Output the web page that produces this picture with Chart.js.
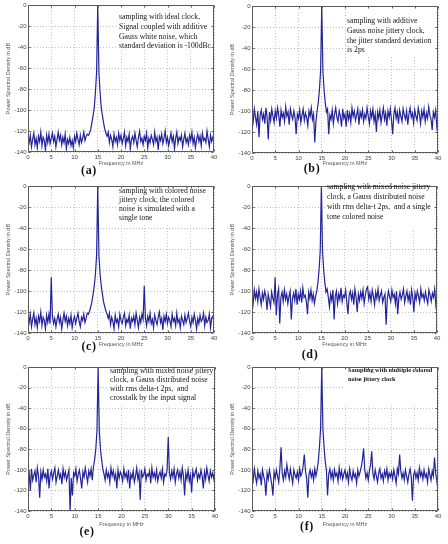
<!DOCTYPE html>
<html><head><meta charset="utf-8">
<script src="https://cdn.jsdelivr.net/npm/chart.js@4.4.1/dist/chart.umd.min.js"></script>
<style>
html,body{margin:0;padding:0;background:#fff;width:448px;height:544px;overflow:hidden}
#wrap{position:relative;width:448px;height:544px}
canvas{position:absolute}
.note{position:absolute;font-family:"Liberation Serif","Times New Roman",serif;color:#151515;white-space:pre;font-size:7.7px}
.lab{position:absolute;font-family:"Liberation Serif","Times New Roman",serif;font-weight:bold;font-size:12px;line-height:12px;color:#111;transform:translate(-50%,-50%);letter-spacing:0.6px}
</style></head>
<body><div id="wrap"></div>
<script>
// ---- data ----
const FREQ_STEP = 0.25;            // MHz between PSD bins
const FREQ_COUNT = 161;            // 0 .. 40 MHz
const freqs = Array.from({length: FREQ_COUNT}, (_, i) => i * FREQ_STEP);
const xTickValues = [0, 5, 10, 15, 20, 25, 30, 35, 40];
const yTickValues = [-140, -120, -100, -80, -60, -40, -20, 0];

const psdA = [
 -126,-131,-124,-135,-128,-122,-133,-127,-136,-125,-130,-121,-134,-126,-129,-138,-124,-131,-123,-132,
 -127,-122,-130,-125,-135,-128,-121,-129,-124,-133,-126,-131,-123,-137,-128,-132,-126,-134,-129,-136,
 -125,-130,-122,-128,-133,-124,-131,-127,-121,-129,-125,-123,-124,-122,-118,-112,-105,-98,-83,-64,
 0,-64,-83,-98,-105,-112,-118,-122,-125,-121,-131,-124,-128,-135,-123,-130,-126,-133,-122,-129,
 -124,-132,-127,-121,-134,-126,-130,-123,-137,-128,-125,-131,-122,-129,-135,-126,-120,-130,-127,-133,
 -125,-129,-122,-136,-127,-131,-124,-128,-133,-121,-130,-126,-138,-125,-129,-123,-132,-127,-120,-131,
 -126,-134,-128,-122,-130,-125,-137,-127,-121,-132,-126,-129,-124,-135,-128,-122,-131,-127,-133,-124,
 -129,-121,-132,-126,-136,-128,-123,-130,-125,-134,-122,-129,-127,-131,-120,-128,-135,-124,-130,-126,
 -129];
const psdB = [
 -102,-110,-98,-106,-113,-100,-125,-104,-99,-108,-103,-112,-97,-106,-127,-101,-109,-98,-105,-111,
 -100,-107,-97,-104,-115,-99,-106,-102,-110,-96,-105,-101,-113,-98,-104,-108,-100,-106,-122,-103,
 -107,-99,-111,-104,-98,-109,-102,-106,-114,-100,-105,-97,-108,-103,-130,-110,-100,-92,-80,-62,
 0,-62,-80,-92,-101,-98,-122,-104,-108,-99,-112,-103,-97,-106,-110,-100,-105,-115,-98,-107,
 -103,-115,-99,-108,-102,-111,-97,-105,-100,-109,-104,-98,-113,-101,-106,-99,-110,-103,-107,-97,
 -105,-112,-100,-106,-98,-110,-103,-120,-101,-107,-99,-111,-104,-97,-108,-102,-114,-100,-106,-98,
 -109,-122,-103,-97,-107,-101,-112,-99,-105,-110,-98,-104,-108,-100,-113,-103,-97,-106,-102,-111,
 -99,-105,-109,-97,-103,-112,-100,-106,-98,-110,-102,-107,-96,-104,-108,-118,-101,-106,-99,-115,
 -108];
const psdC = [
 -124,-130,-122,-134,-127,-121,-132,-126,-135,-124,-129,-120,-133,-125,-128,-136,-123,-130,-122,-131,
 -87,-124,-131,-126,-134,-127,-122,-130,-125,-136,-128,-121,-129,-124,-133,-126,-131,-123,-135,-128,
 -124,-131,-126,-121,-129,-134,-125,-128,-122,-130,-126,-121,-122,-119,-115,-110,-103,-95,-84,-66,
 0,-66,-84,-95,-103,-110,-115,-119,-122,-126,-121,-132,-125,-129,-136,-123,-130,-127,-134,-122,
 -128,-131,-125,-121,-133,-127,-130,-123,-136,-126,-129,-124,-132,-121,-128,-135,-125,-130,-122,-127,
 -95,-126,-133,-124,-129,-121,-131,-127,-135,-123,-128,-132,-125,-120,-130,-126,-137,-124,-129,-122,
 -131,-125,-128,-134,-122,-129,-126,-133,-121,-130,-127,-135,-124,-128,-132,-123,-130,-126,-121,-129,
 -134,-125,-130,-122,-128,-136,-126,-131,-123,-129,-127,-121,-133,-125,-130,-128,-122,-135,-126,-124,
 -130];
const psdD = [
 -104,-112,-99,-107,-101,-110,-98,-106,-113,-102,-108,-100,-105,-118,-103,-109,-115,-101,-107,-111,
 -87,-123,-104,-98,-131,-106,-101,-110,-99,-108,-103,-112,-105,-100,-127,-107,-102,-109,-98,-113,
 -103,-108,-100,-111,-97,-106,-104,-110,-122,-101,-107,-99,-109,-103,-112,-105,-100,-92,-80,-62,
 0,-62,-80,-92,-101,-98,-106,-115,-103,-109,-99,-127,-105,-100,-112,-103,-108,-97,-110,-104,
 -106,-99,-111,-122,-104,-100,-108,-102,-113,-98,-106,-120,-103,-109,-101,-107,-99,-112,-104,-98,
 -96,-108,-102,-110,-99,-105,-113,-101,-107,-98,-109,-104,-100,-111,-106,-103,-132,-108,-100,-105,
 -110,-99,-106,-103,-112,-100,-122,-107,-101,-108,-104,-98,-111,-105,-100,-109,-103,-113,-99,-106,
 -120,-102,-108,-100,-105,-111,-98,-106,-103,-109,-101,-107,-112,-99,-104,-110,-102,-106,-98,-113,
 -105];
const psdE = [
 -108,-103,-120,-99,-110,-105,-101,-112,-98,-106,-127,-102,-109,-100,-107,-104,-111,-99,-118,-105,
 -101,-109,-103,-98,-112,-106,-100,-108,-104,-114,-99,-107,-102,-110,-105,-100,-140,-108,-125,-103,
 -106,-99,-111,-104,-100,-109,-118,-102,-107,-98,-105,-112,-101,-106,-99,-110,-97,-90,-80,-62,
 0,-62,-80,-90,-99,-104,-110,-100,-107,-103,-112,-98,-106,-101,-109,-104,-118,-100,-108,-102,
 -105,-111,-99,-107,-103,-110,-100,-118,-104,-108,-101,-112,-106,-98,-109,-103,-129,-100,-107,-105,
 -99,-110,-104,-106,-101,-113,-98,-107,-103,-109,-100,-111,-105,-102,-108,-99,-112,-104,-106,-100,
 -68,-103,-109,-101,-107,-99,-112,-104,-100,-108,-102,-110,-98,-106,-125,-103,-109,-100,-111,-105,
 -122,-101,-107,-103,-99,-110,-104,-108,-100,-106,-118,-102,-109,-98,-105,-111,-101,-107,-103,-109,
 -100];
const psdF = [
 -103,-110,-99,-107,-113,-101,-108,-104,-115,-100,-106,-111,-125,-103,-109,-100,-107,-114,-125,-102,
 -108,-100,-106,-112,-98,-78,-104,-110,-101,-107,-95,-103,-109,-99,-106,-113,-100,-105,-108,-102,
 -110,-99,-106,-103,-96,-85,-101,-108,-127,-104,-100,-107,-102,-110,-99,-106,-100,-92,-78,-60,
 0,-60,-78,-92,-100,-125,-104,-99,-108,-102,-110,-100,-106,-103,-111,-98,-107,-101,-109,-104,
 -100,-108,-103,-112,-99,-106,-110,-101,-107,-104,-113,-100,-106,-102,-97,-90,-79,-100,-108,-103,
 -110,-101,-95,-82,-104,-109,-100,-106,-112,-103,-99,-108,-104,-111,-101,-106,-99,-110,-103,-107,
 -102,-109,-100,-106,-113,-99,-104,-85,-101,-108,-103,-110,-100,-106,-112,-104,-99,-107,-130,-105,
 -101,-108,-103,-110,-98,-106,-102,-109,-100,-107,-104,-112,-99,-105,-110,-101,-106,-88,-103,-111,
 -120];

const notesA = ["sampling with ideal clock,", "Signal coupled with additive", "Gauss white noise, which", "standard deviation is -100dBc"];
const notesB = ["sampling with additive", "Gauss noise jittery clock,", "the jitter standard deviation", "is 2ps"];
const notesC = ["sampling with colored noise", "jittery clock, the colored", "noise is simulated with a", "single tone"];
const notesD = ["sampling with mixed noise jittery", "clock, a Gauss distributed noise", "with rms delta-t 2ps,  and a single", "tone colored noise"];
const notesE = ["sampling with mixed noise jittery", "clock, a Gauss distributed noise", "with rms delta-t 2ps,  and", "crosstalk by the input signal"];
const notesF = ["Sampling with multiple colored", "noise jittery clock"];
const xTitle = "Frequency in MHz";
const yTitle = "Power Spectral Density in dB";

// ---- layout (pixels) ----
const panels = [
 {id:'(a)', values:psdA, notes:notesA, canvas:[0,0,224,181],   plot:[28,214,5,152], xGap:11, box:[118,6,213,50],   note:[119,12.3,9.7,false], lab:[89,170]},
 {id:'(b)', values:psdB, notes:notesB, canvas:[224,0,224,181], plot:[28,214,6,153], xGap:10, box:[346,7,437,57],   note:[347,16.3,9.7,false], lab:[312,168]},
 {id:'(c)', values:psdC, notes:notesC, canvas:[0,181,224,181], plot:[28,214,5,152], xGap:11, box:[118,186,213,223], note:[119,185.5,9.1,false], lab:[89,346]},
 {id:'(d)', values:psdD, notes:notesD, canvas:[224,181,224,181], plot:[28,213,5,152], xGap:11, box:[326,186,436,231], note:[327,182.2,10,false], lab:[310,354]},
 {id:'(e)', values:psdE, notes:notesE, canvas:[0,362,224,182], plot:[28,215,3,149], xGap:13, box:[108,366,214,404], note:[110,365.5,9.3,false], lab:[87,531]},
 {id:'(f)', values:psdF, notes:notesF, canvas:[224,362,224,182], plot:[28,214,3,149], xGap:13, box:[345,366,437,405], note:[348,364.5,9.2,true], lab:[307,526]}
];

const wrap = document.getElementById('wrap');
const XH = 18;
const LINE = '#24249a';
const GRID = '#c2c2c2';
const FRAME = '#5a5a5a';

function makeChart(p) {
  const [cx, cy, cw, ch] = p.canvas;
  const [L, R, T, B] = p.plot;
  const cv = document.createElement('canvas');
  cv.width = cw; cv.height = ch;
  cv.style.left = cx + 'px'; cv.style.top = cy + 'px';
  cv.style.width = cw + 'px'; cv.style.height = ch + 'px';
  wrap.appendChild(cv);

  const framePlugin = {
    id: 'frame',
    beforeDatasetsDraw(chart) {
      const ctx = chart.ctx;
      const [x0, y0, x1, y1] = p.box;
      ctx.save();
      ctx.fillStyle = '#fff';
      ctx.fillRect(x0 - cx, y0 - cy, x1 - x0, y1 - y0);
      ctx.restore();
    },
    afterDatasetsDraw(chart) {
      const {ctx, chartArea: a, scales: {x, y}} = chart;
      ctx.save();
      ctx.strokeStyle = FRAME; ctx.lineWidth = 1;
      const l = Math.round(a.left) + 0.5, r = Math.round(a.right) - 0.5;
      const t = Math.round(a.top) + 0.5, bt = Math.round(a.bottom) - 0.5;
      ctx.beginPath();
      ctx.rect(l, t, r - l, bt - t);
      xTickValues.forEach(v => {
        const px = Math.round(x.getPixelForValue(v)) + 0.5;
        ctx.moveTo(px, bt); ctx.lineTo(px, bt - 2);
        ctx.moveTo(px, t); ctx.lineTo(px, t + 2);
      });
      yTickValues.forEach(v => {
        const py = Math.round(y.getPixelForValue(v)) + 0.5;
        ctx.moveTo(l, py); ctx.lineTo(l + 2, py);
        ctx.moveTo(r, py); ctx.lineTo(r - 2, py);
      });
      ctx.stroke();
      ctx.restore();
    }
  };

  const tickFont = {family: '"Liberation Sans", Arial, sans-serif', size: 6};
  const titleFont = {family: '"Liberation Sans", Arial, sans-serif', size: 5.5};

  new Chart(cv, {
    type: 'line',
    data: {datasets: [{
      data: freqs.map((f, i) => ({x: f, y: p.values[i]})),
      borderColor: LINE, borderWidth: 1.2, pointRadius: 0, tension: 0, fill: false
    }]},
    options: {
      responsive: false, animation: false, events: [],
      layout: {padding: {left: 0, top: T, right: cw - R, bottom: ch - B - XH}},
      plugins: {legend: {display: false}, tooltip: {enabled: false}},
      scales: {
        x: {
          type: 'linear', min: 0, max: 40,
          afterBuildTicks: s => { s.ticks = xTickValues.map(v => ({value: v})); },
          afterFit: s => { s.height = XH; },
          ticks: {font: tickFont, color: '#444', padding: 2, maxRotation: 0, autoSkip: false},
          title: {display: true, text: xTitle, font: titleFont, color: '#555',
                  padding: {top: 0, bottom: XH - 3.3 - p.xGap}},
          grid: {color: GRID, lineWidth: 1, drawTicks: false},
          border: {display: false, dash: [1, 2]}
        },
        y: {
          type: 'linear', min: -140, max: 0,
          afterBuildTicks: s => { s.ticks = yTickValues.map(v => ({value: v})); },
          afterFit: s => { s.width = L; },
          ticks: {font: tickFont, color: '#444', padding: 1.5, autoSkip: false},
          title: {display: true, text: yTitle, font: titleFont, color: '#555',
                  padding: {top: 4.7, bottom: 0}},
          grid: {color: GRID, lineWidth: 1, drawTicks: false},
          border: {display: false, dash: [1, 2]}
        }
      }
    },
    plugins: [framePlugin]
  });

  const n = document.createElement('div');
  n.className = 'note';
  const [nx, ny, lh, bold] = p.note;
  n.style.left = nx + 'px'; n.style.top = ny + 'px';
  n.style.lineHeight = lh + 'px';
  if (bold) { n.style.fontWeight = 'bold'; n.style.fontSize = '6.3px'; }
  n.textContent = p.notes.join('\n');
  wrap.appendChild(n);

  const lb = document.createElement('div');
  lb.className = 'lab';
  lb.style.left = p.lab[0] + 'px'; lb.style.top = p.lab[1] + 'px';
  lb.textContent = p.id;
  wrap.appendChild(lb);
}

panels.forEach(makeChart);
</script>
</body></html>
